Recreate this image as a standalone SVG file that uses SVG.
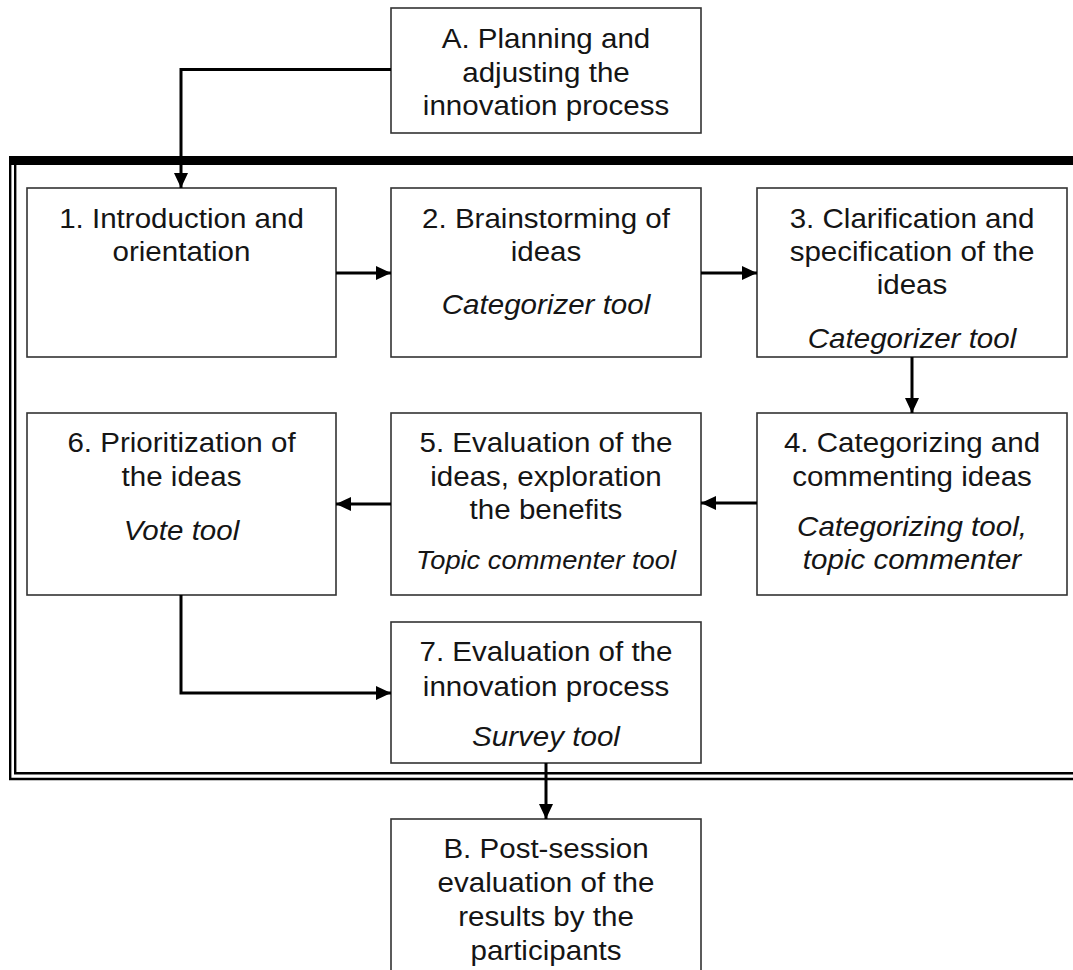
<svg xmlns="http://www.w3.org/2000/svg" width="1073" height="970" viewBox="0 0 1073 970">
  <style>
    .box { fill: #ffffff; stroke: #333333; stroke-width: 1.6; }
    .frame { fill: none; stroke: #000000; stroke-width: 2.4; }
    .conn { fill: none; stroke: #000000; stroke-width: 3; }
    .t { font-family: "Liberation Sans", Arial, sans-serif; font-size: 27.5px; fill: #151515; text-anchor: middle; }
    .i { font-style: italic; }
    .s { font-size: 25.4px; }
  </style>
  <defs>
    <marker id="arrow" markerUnits="userSpaceOnUse" markerWidth="15" markerHeight="14" refX="15" refY="7" orient="auto">
      <path d="M0,0 L15,7 L0,14 Z" fill="#000000"/>
    </marker>
  </defs>

  <rect width="1073" height="970" fill="#ffffff"/>

  <!-- session frame: heavy top edge, double rule on the other sides -->
  <g id="frame">
    <rect x="9" y="156" width="1070" height="9" fill="#000000"/>
    <path class="frame" d="M1080,779 H10.2 V156"/>
    <path class="frame" d="M1080,773.2 H15.2 V165"/>
  </g>

  <g id="nodeA">
    <rect class="box" x="391" y="8" width="310" height="125"/>
    <g transform="translate(546,0) scale(1.075,1)">
      <text class="t" x="0" y="48">A. Planning and</text>
      <text class="t" x="0" y="82">adjusting the</text>
      <text class="t" x="0" y="115">innovation process</text>
    </g>
  </g>

  <g id="node1">
    <rect class="box" x="27" y="188" width="309" height="169"/>
    <g transform="translate(181.5,0) scale(1.075,1)">
      <text class="t" x="0" y="228">1. Introduction and</text>
      <text class="t" x="0" y="261">orientation</text>
    </g>
  </g>

  <g id="node2">
    <rect class="box" x="391" y="188" width="310" height="169"/>
    <g transform="translate(546,0) scale(1.075,1)">
      <text class="t" x="0" y="228">2. Brainstorming of</text>
      <text class="t" x="0" y="261">ideas</text>
      <text class="t i" x="0" y="314">Categorizer tool</text>
    </g>
  </g>

  <g id="node3">
    <rect class="box" x="757" y="188" width="310" height="169"/>
    <g transform="translate(912,0) scale(1.075,1)">
      <text class="t" x="0" y="228">3. Clarification and</text>
      <text class="t" x="0" y="261">specification of the</text>
      <text class="t" x="0" y="294">ideas</text>
      <text class="t i" x="0" y="348">Categorizer tool</text>
    </g>
  </g>

  <g id="node4">
    <rect class="box" x="757" y="413" width="310" height="182"/>
    <g transform="translate(912,0) scale(1.075,1)">
      <text class="t" x="0" y="452">4. Categorizing and</text>
      <text class="t" x="0" y="486">commenting ideas</text>
      <text class="t i" x="0" y="536">Categorizing tool,</text>
      <text class="t i" x="0" y="569">topic commenter</text>
    </g>
  </g>

  <g id="node5">
    <rect class="box" x="391" y="413" width="310" height="182"/>
    <g transform="translate(546,0) scale(1.075,1)">
      <text class="t" x="0" y="452">5. Evaluation of the</text>
      <text class="t" x="0" y="486">ideas, exploration</text>
      <text class="t" x="0" y="519">the benefits</text>
      <text class="t i s" x="0" y="569">Topic commenter tool</text>
    </g>
  </g>

  <g id="node6">
    <rect class="box" x="27" y="413" width="309" height="182"/>
    <g transform="translate(181.5,0) scale(1.075,1)">
      <text class="t" x="0" y="452">6. Prioritization of</text>
      <text class="t" x="0" y="486">the ideas</text>
      <text class="t i" x="0" y="540">Vote tool</text>
    </g>
  </g>

  <g id="node7">
    <rect class="box" x="391" y="622" width="310" height="141"/>
    <g transform="translate(546,0) scale(1.075,1)">
      <text class="t" x="0" y="661">7. Evaluation of the</text>
      <text class="t" x="0" y="696">innovation process</text>
      <text class="t i" x="0" y="746">Survey tool</text>
    </g>
  </g>

  <g id="nodeB">
    <rect class="box" x="391" y="819" width="310" height="170"/>
    <g transform="translate(546,0) scale(1.075,1)">
      <text class="t" x="0" y="858">B. Post-session</text>
      <text class="t" x="0" y="892">evaluation of the</text>
      <text class="t" x="0" y="926">results by the</text>
      <text class="t" x="0" y="960">participants</text>
    </g>
  </g>

  <g id="connectors">
    <path class="conn" d="M391,69.5 H181 V188" marker-end="url(#arrow)"/>
    <path class="conn" d="M336,273 H391" marker-end="url(#arrow)"/>
    <path class="conn" d="M701,273 H757" marker-end="url(#arrow)"/>
    <path class="conn" d="M912,357 V413" marker-end="url(#arrow)"/>
    <path class="conn" d="M757,503 H701" marker-end="url(#arrow)"/>
    <path class="conn" d="M391,504 H336" marker-end="url(#arrow)"/>
    <path class="conn" d="M181,595 V693 H391" marker-end="url(#arrow)"/>
    <path class="conn" d="M546,763 V819" marker-end="url(#arrow)"/>
  </g>
</svg>
